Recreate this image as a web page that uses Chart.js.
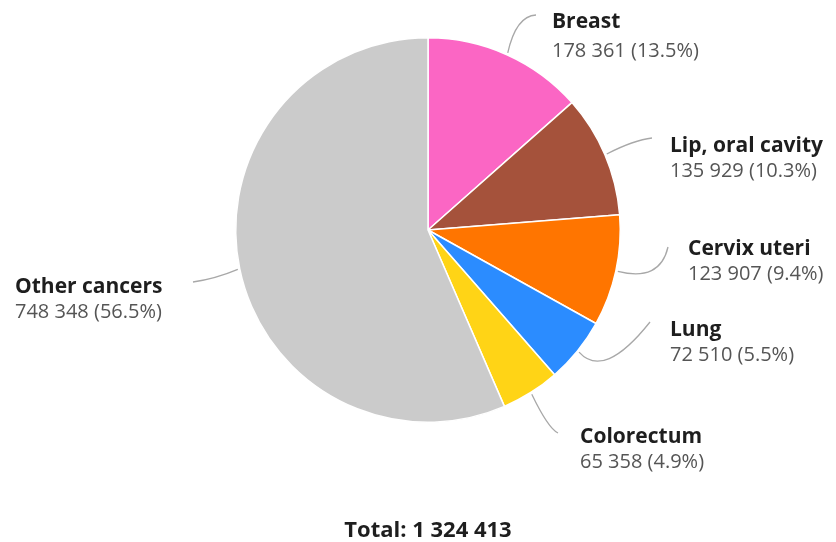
<!DOCTYPE html>
<html lang="en">
<head>
  <meta charset="UTF-8"/>
  <title>Cancer cases</title>
  <style>
    body { margin: 0; background: #fff; }
    #wrap { width: 836px; height: 542px; }
  </style>
</head>
<body>
  <div id="wrap"><canvas id="pie" width="836" height="542"></canvas></div>
  <script src="https://cdn.jsdelivr.net/npm/chart.js@4.4.1/dist/chart.umd.min.js"></script>
  <script>
    // data
    const sites = ['Breast', 'Lip, oral cavity', 'Cervix uteri', 'Lung', 'Colorectum', 'Other cancers'];
    const cases = [178361, 135929, 123907, 72510, 65358, 748348];
    const shares = ['13.5%', '10.3%', '9.4%', '5.5%', '4.9%', '56.5%'];
    const totalText = 'Total: 1 324 413';

    const colors = ['#fb66c4', '#a5523b', '#ff7500', '#2b8cff', '#ffd416', '#cbcbcb'];

    // label placement: text anchor, leader control point and end point
    const labelLayout = [
      { tx: 552, ty: 22, cx: 516, cy: 16, ex: 536, ey: 15 },
      { tx: 670, ty: 146, cx: 634, cy: 140, ex: 652, ey: 138 },
      { tx: 688, ty: 249, cx: 660, cy: 282, ex: 668, ey: 247 },
      { tx: 670, ty: 330, cx: 604, cy: 380, ex: 650, ey: 322 },
      { tx: 580, ty: 437, cx: 548, cy: 428, ex: 558, ey: 433 },
      { tx: 15, ty: 287, cx: 215, cy: 279, ex: 193, ey: 282 }
    ];

    const fmt = n => n.toString().replace(/\B(?=(\d{3})+(?!\d))/g, ' ');

    const labels = {
      id: 'labels',
      afterDatasetsDraw(chart) {
        const ctx = chart.ctx;
        const arcs = chart.getDatasetMeta(0).data;
        ctx.save();
        arcs.forEach((arc, i) => {
          const p = arc.getProps(['x', 'y', 'startAngle', 'endAngle', 'outerRadius'], true);
          const mid = (p.startAngle + p.endAngle) / 2;
          const r = p.outerRadius + 2;
          const L = labelLayout[i];
          ctx.beginPath();
          ctx.moveTo(p.x + Math.cos(mid) * r, p.y + Math.sin(mid) * r);
          ctx.quadraticCurveTo(L.cx, L.cy, L.ex, L.ey);
          ctx.strokeStyle = '#a8a8a8';
          ctx.lineWidth = 1.3;
          ctx.stroke();

          ctx.textAlign = 'left';
          ctx.textBaseline = 'middle';
          ctx.fillStyle = '#1e1e1e';
          ctx.font = 'bold 21px "Open Sans"';
          ctx.fillText(sites[i], L.tx, L.ty);
          ctx.fillStyle = '#555';
          ctx.font = '20px "Open Sans"';
          ctx.fillText(fmt(cases[i]) + ' (' + shares[i] + ')', L.tx, L.ty + (i === 0 ? 29 : 25));
        });
        ctx.fillStyle = '#1e1e1e';
        ctx.font = 'bold 22px "Open Sans"';
        ctx.textAlign = 'center';
        ctx.fillText(totalText, 428, 531);
        ctx.restore();
      }
    };

    new Chart(document.getElementById('pie'), {
      type: 'pie',
      data: {
        labels: sites,
        datasets: [{
          data: cases,
          backgroundColor: colors,
          borderColor: '#fff',
          borderWidth: 1.5,
          hoverOffset: 0
        }]
      },
      options: {
        responsive: false,
        animation: false,
        layout: { padding: { top: 37, bottom: 119, left: 235, right: 215 } },
        plugins: {
          legend: { display: false },
          tooltip: { enabled: false }
        }
      },
      plugins: [labels]
    });
  </script>
</body>
</html>
